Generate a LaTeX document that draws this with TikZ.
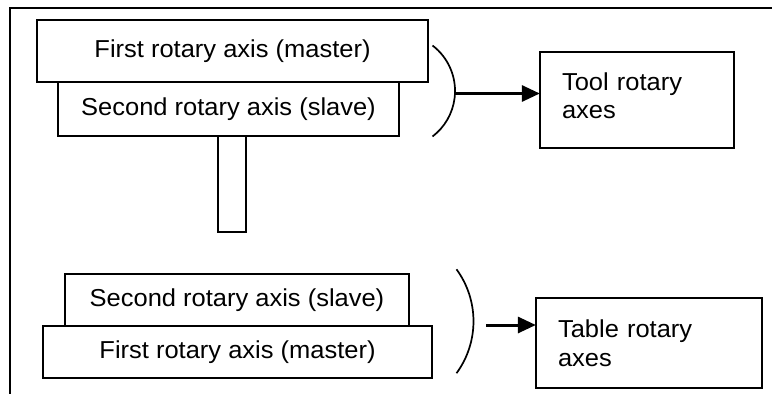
\documentclass[tikz,border=0pt]{standalone}
\usepackage{fontspec}
\setmainfont[FakeStretch=1.04]{Liberation Sans}
\usetikzlibrary{arrows.meta}
\begin{document}
\begin{tikzpicture}[x=1pt,y=-1pt,
  every node/.style={font=\fontsize{24.5}{28.5}\selectfont},
  axisbox/.style={draw, line width=1.5pt, inner sep=0pt, anchor=center},
  targetbox/.style={draw, line width=1.5pt, inner ysep=0pt, align=left, anchor=center},
  brace/.style={line width=1.7pt},
  feed/.style={line width=3pt, -{Triangle[length=18pt,width=16pt]}, shorten >=-0.6pt}
]
\useasboundingbox (0,0) rectangle (772,394);
% outer frame (cropped)
\draw[line width=1.5pt] (10,394) -- (10,8) -- (772,8);
% tool side
\node[axisbox, minimum width=391pt, minimum height=62pt] (tfirst) at (232.5,51) {First rotary axis (master)};
\node[axisbox, minimum width=341pt, minimum height=54pt] (tsecond) at (228.5,109) {Second rotary axis (slave)};
\node[axisbox, minimum width=28pt, minimum height=96pt] (pillar) at (232,184) {};
% table side
\node[axisbox, minimum width=344pt, minimum height=52pt] (bsecond) at (237,300) {Second rotary axis (slave)};
\node[axisbox, minimum width=389pt, minimum height=52pt] (bfirst) at (237.5,352) {First rotary axis (master)};
% target boxes
\node[targetbox, minimum width=194pt, minimum height=96pt, text width=150pt, inner xsep=22pt] (tool) at (637,100) {Tool rotary\\axes\rule[-9pt]{0pt}{0pt}};
\node[targetbox, minimum width=226pt, minimum height=90pt, text width=182pt, inner xsep=22pt] (table) at (649,343) {Table rotary\\axes};
% brackets
\draw[brace] (432.5,45.5) arc[start angle=-52.7, end angle=52.7, radius=57.2];
\coordinate (tb) at (454.5,93.5);
\draw[brace] (456.5,269.3) arc[start angle=-36.2, end angle=36.2, radius=88];
\coordinate (bb) at (486,325);
% arrows
\draw[feed] (tb) -- (tb -| tool.west);
\draw[feed] (bb) -- (bb -| table.west);
\end{tikzpicture}
\end{document}
